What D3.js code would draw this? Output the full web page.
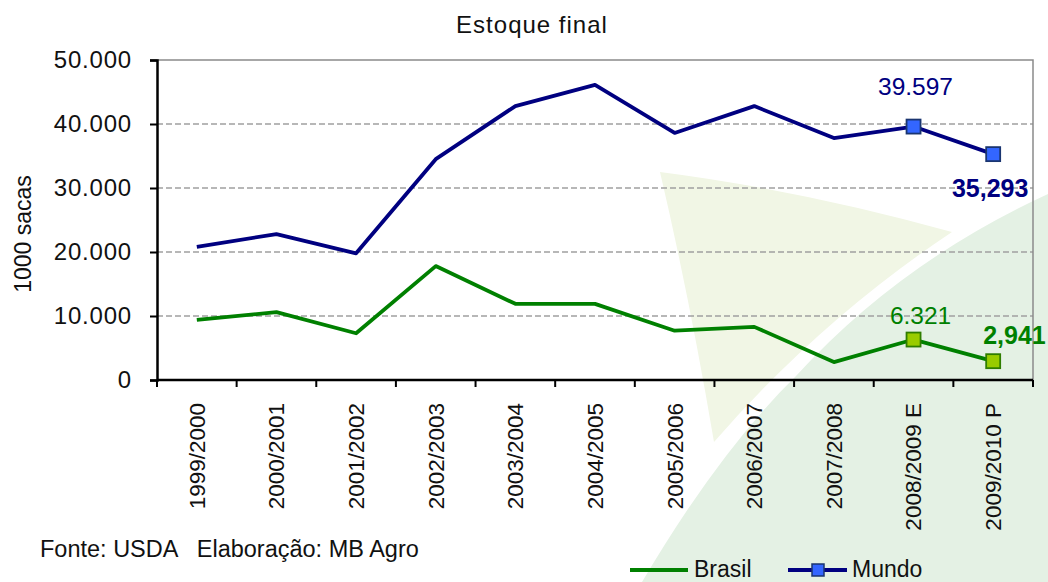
<!DOCTYPE html>
<html lang="pt">
<head>
<meta charset="UTF-8">
<title>Estoque final</title>
<script src="https://d3js.org/d3.v7.min.js"></script>
<style>
  body { margin: 0; background: #fff; }
  svg { display: block; font-family: "Liberation Sans", Arial, sans-serif; }
</style>
</head>
<body>
<div id="chart"></div>
<script>
// data
const categories = ["1999/2000", "2000/2001", "2001/2002", "2002/2003", "2003/2004", "2004/2005",
  "2005/2006", "2006/2007", "2007/2008", "2008/2009 E", "2009/2010 P"];
const brasil = [9400, 10600, 7300, 17800, 11900, 11900, 7700, 8300, 2800, 6321, 2941];
const mundo = [20800, 22800, 19800, 34500, 42800, 46100, 38600, 42800, 37800, 39597, 35293];
const yTicks = [0, 10000, 20000, 30000, 40000, 50000];
const markedIdx = [9, 10];          // points that get square markers
const mundoLabels = ["39.597", "35,293"];
const brasilLabels = ["6.321", "2,941"];

const W = 1048, H = 582;
const plotL = 157, plotR = 1033, plotT = 60, plotB = 380;

const svg = d3.select("#chart").append("svg")
  .attr("width", W).attr("height", H);

// faint watermark in the background
svg.append("path")
  .attr("d", "M660,172 Q800,190 952,232 Q820,320 714,442 Q690,300 660,172 Z")
  .attr("fill", "#f1f6e5");
svg.append("path")
  .attr("d", "M642,582 Q720,450 796,376 Q900,262 1048,194 L1048,582 Z")
  .attr("fill", "#e4f1e4");

const x = d3.scaleBand().domain(categories).range([plotL, plotR]);
const y = d3.scaleLinear().domain([0, 50000]).range([plotB, plotT]);
const cx = d => x(d) + x.bandwidth() / 2;

const fmt = d3.formatLocale({ decimal: ",", thousands: ".", grouping: [3], currency: ["", ""] }).format(",");

// gridlines
svg.append("g").selectAll("line")
  .data(yTicks.filter(t => t > 0 && t < 50000))
  .join("line")
  .attr("x1", plotL).attr("x2", plotR)
  .attr("y1", d => y(d)).attr("y2", d => y(d))
  .attr("stroke", "#a0a0a0").attr("stroke-width", 1.6)
  .attr("stroke-dasharray", "6,3");

// plot border (top, right)
svg.append("path")
  .attr("d", `M${plotL},${plotT}H${plotR}V${plotB}`)
  .attr("fill", "none").attr("stroke", "#8a8a8a").attr("stroke-width", 1.5);

// y axis
const yAxis = svg.append("g")
  .attr("transform", `translate(${plotL},0)`)
  .call(d3.axisLeft(y).tickValues(yTicks).tickFormat(fmt).tickSize(7).tickPadding(18));
yAxis.select(".domain").attr("stroke", "#000").attr("stroke-width", 2.5);
yAxis.selectAll(".tick line").attr("stroke", "#000").attr("stroke-width", 2);
yAxis.selectAll("text").attr("font-size", 24).attr("fill", "#111")
  .attr("letter-spacing", 0.8)
  .attr("font-family", "Liberation Sans, Arial, sans-serif");

// x axis: labels at band centres, ticks at band edges
const xAxis = svg.append("g")
  .attr("transform", `translate(0,${plotB})`)
  .call(d3.axisBottom(x).tickSize(0).tickPadding(0));
xAxis.select(".domain").remove();
xAxis.selectAll("text")
  .attr("font-size", 22.5).attr("fill", "#111")
  .attr("font-family", "Liberation Sans, Arial, sans-serif")
  .attr("text-anchor", "end")
  .attr("transform", "rotate(-90)")
  .attr("x", -23).attr("y", 0).attr("dy", "0.35em");

svg.append("line")
  .attr("x1", plotL).attr("x2", plotR)
  .attr("y1", plotB).attr("y2", plotB)
  .attr("stroke", "#000").attr("stroke-width", 2.5);
svg.append("g").selectAll("line")
  .data(categories.map(c => x(c)).concat([x.range()[1]]))
  .join("line")
  .attr("x1", d => d).attr("x2", d => d)
  .attr("y1", plotB).attr("y2", plotB + 7)
  .attr("stroke", "#000").attr("stroke-width", 2);

// lines
const line = d3.line().x((d, i) => cx(categories[i])).y(d => y(d));
svg.append("path").datum(brasil).attr("d", line)
  .attr("fill", "none").attr("stroke", "#008000").attr("stroke-width", 3.8)
  .attr("stroke-linejoin", "round");
svg.append("path").datum(mundo).attr("d", line)
  .attr("fill", "none").attr("stroke", "#000080").attr("stroke-width", 3.8)
  .attr("stroke-linejoin", "round");

// markers
const ms = 14;
svg.append("g").selectAll("rect")
  .data(markedIdx)
  .join("rect")
  .attr("x", i => cx(categories[i]) - ms / 2)
  .attr("y", i => y(brasil[i]) - ms / 2)
  .attr("width", ms).attr("height", ms)
  .attr("fill", "#99cc00").attr("stroke", "#2f7d00").attr("stroke-width", 1.8);
svg.append("g").selectAll("rect")
  .data(markedIdx)
  .join("rect")
  .attr("x", i => cx(categories[i]) - ms / 2)
  .attr("y", i => y(mundo[i]) - ms / 2)
  .attr("width", ms).attr("height", ms)
  .attr("fill", "#3366ff").attr("stroke", "#1a3570").attr("stroke-width", 1.8);

// value labels
svg.append("text").attr("x", cx(categories[9]) + 2).attr("y", y(mundo[9]) - 32)
  .attr("text-anchor", "middle").attr("font-size", 24.5).attr("fill", "#000080")
  .text(mundoLabels[0]);
svg.append("text").attr("x", cx(categories[10]) - 3).attr("y", y(mundo[10]) + 43)
  .attr("text-anchor", "middle").attr("font-size", 25).attr("font-weight", "bold").attr("fill", "#000080")
  .text(mundoLabels[1]);
svg.append("text").attr("x", cx(categories[9]) + 7).attr("y", y(brasil[9]) - 16)
  .attr("text-anchor", "middle").attr("font-size", 24.5).attr("fill", "#008000")
  .text(brasilLabels[0]);
svg.append("text").attr("x", cx(categories[10]) - 10).attr("y", y(brasil[10]) - 17)
  .attr("text-anchor", "start").attr("font-size", 25).attr("font-weight", "bold").attr("fill", "#008000")
  .text(brasilLabels[1]);

// title
svg.append("text").attr("x", 532).attr("y", 33)
  .attr("text-anchor", "middle").attr("font-size", 24).attr("fill", "#111")
  .attr("letter-spacing", 1)
  .text("Estoque final");

// y axis title
svg.append("text")
  .attr("transform", "translate(31,234) rotate(-90)")
  .attr("text-anchor", "middle").attr("font-size", 23).attr("fill", "#111")
  .text("1000 sacas");

// source
svg.append("text").attr("x", 40).attr("y", 557)
  .attr("font-size", 23.5).attr("fill", "#111")
  .attr("xml:space", "preserve")
  .text("Fonte: USDA   Elaboração: MB Agro");

// legend
const lg = svg.append("g");
lg.append("line").attr("x1", 630).attr("x2", 688).attr("y1", 570).attr("y2", 570)
  .attr("stroke", "#008000").attr("stroke-width", 3.8);
lg.append("text").attr("x", 694).attr("y", 577).attr("font-size", 23).attr("fill", "#111").text("Brasil");
lg.append("line").attr("x1", 788).attr("x2", 847).attr("y1", 570).attr("y2", 570)
  .attr("stroke", "#000080").attr("stroke-width", 3.8);
lg.append("rect").attr("x", 812).attr("y", 564).attr("width", 12).attr("height", 12)
  .attr("fill", "#3366ff").attr("stroke", "#1a3570").attr("stroke-width", 1.5);
lg.append("text").attr("x", 852).attr("y", 577).attr("font-size", 23).attr("fill", "#111").text("Mundo");
</script>
</body>
</html>
